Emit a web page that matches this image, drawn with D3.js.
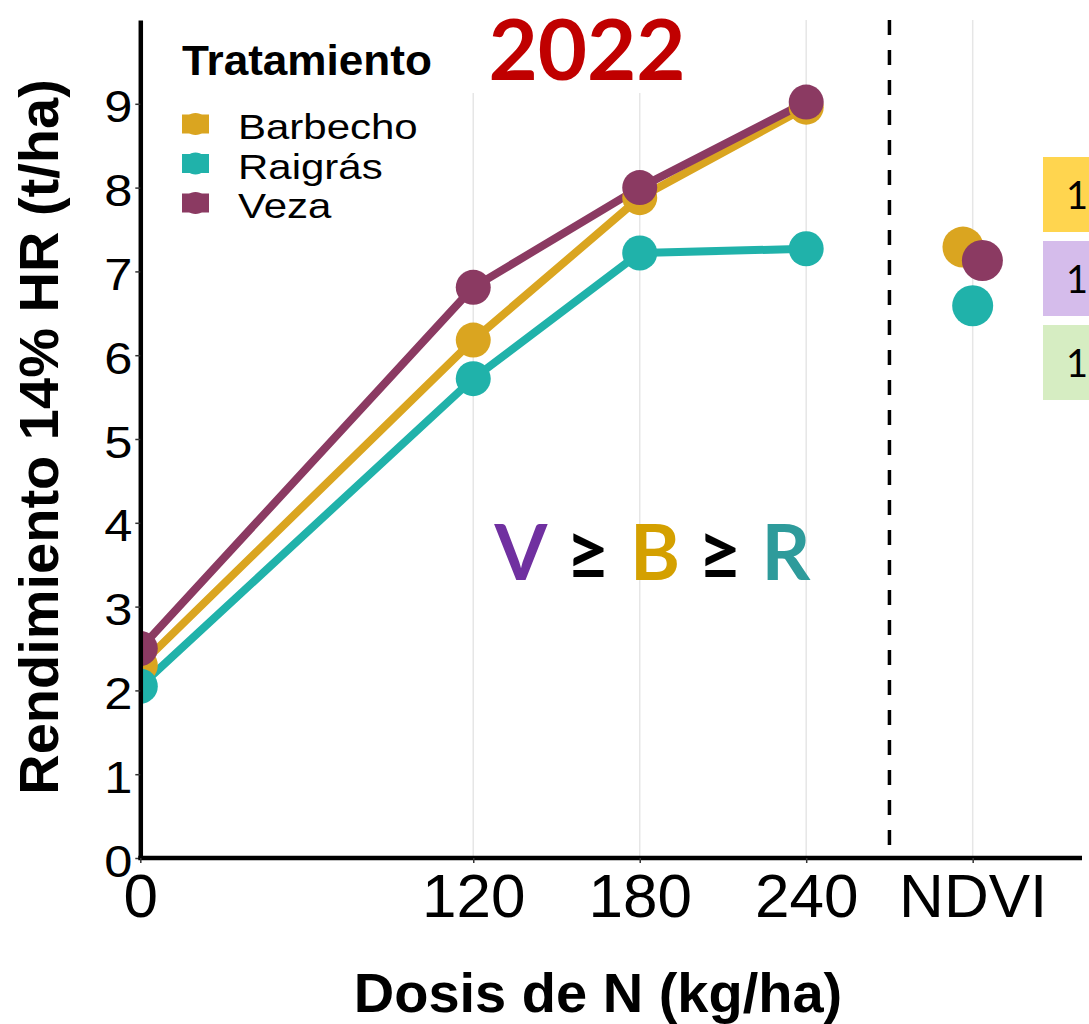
<!DOCTYPE html>
<html><head><meta charset="utf-8">
<script src="https://cdn.jsdelivr.net/npm/d3@7"></script>
<style>html,body{margin:0;padding:0;background:#fff}</style>
</head><body>
<svg id="c" width="1089" height="1024"></svg>
<script>
// ---- data ----
const treatments = ["Barbecho", "Raigrás", "Veza"];
const doses = [0, 120, 180, 240];
const barbecho = [2.30, 6.18, 7.88, 8.96];
const raigras  = [2.05, 5.72, 7.22, 7.27];
const veza     = [2.50, 6.81, 8.00, 9.02];
const ndviValues = [7.29, 6.59, 7.13];       // Barbecho, Raigrás, Veza
const ndviDodge  = [-3.5, 0, 3.5];
const xTickValues = [0, 120, 180, 240, 300];
const xTickLabels = ["0", "120", "180", "240", "NDVI"];
const yTickValues = [0,1,2,3,4,5,6,7,8,9];
const colors = ["#DAA520", "#20B2AA", "#8B3A62"];
const boxColors = ["#FFD54F", "#D5BCEB", "#D6EDC2"];
const boxLabels = ["1", "1", "1"];

const series = [barbecho, raigras, veza];

const svg = d3.select("#c");
const L = 140.3, R = 1082, T = 20, B = 858;
const x = d3.scaleLinear().domain([0, 339.4]).range([L, R]);
const y = d3.scaleLinear().domain([0, 10]).range([B, T]);

// gridlines
svg.append("g").selectAll("line").data([120,180,240,300]).join("line")
  .attr("x1", d => x(d)).attr("x2", d => x(d)).attr("y1", T).attr("y2", B)
  .attr("stroke", "#E6E6E6").attr("stroke-width", 1.5);

// white box behind title (hides gridlines)
svg.append("rect").attr("x", 455).attr("y", 0).attr("width", 270).attr("height", 93).attr("fill", "#fff");

// dashed separator
svg.append("line").attr("x1", x(270)).attr("x2", x(270)).attr("y1", T).attr("y2", B)
  .attr("stroke", "#000").attr("stroke-width", 3.5).attr("stroke-dasharray", "15,15");

// clip
svg.append("clipPath").attr("id", "clip").append("rect")
  .attr("x", L).attr("y", 0).attr("width", R - L).attr("height", B);
const plot = svg.append("g").attr("clip-path", "url(#clip)");

const line = d3.line().x((d, i) => x(doses[i])).y(d => y(d));
series.forEach((s, k) => {
  plot.append("path").datum(s).attr("d", line).attr("fill", "none")
    .attr("stroke", colors[k]).attr("stroke-width", 8).attr("stroke-linejoin", "round");
});
series.forEach((s, k) => {
  plot.append("g").selectAll("circle").data(s).join("circle")
    .attr("cx", (d, i) => x(doses[i])).attr("cy", d => y(d)).attr("r", 17.5)
    .attr("fill", colors[k]);
});
// NDVI points
ndviValues.forEach((v, k) => {
  plot.append("circle").attr("cx", x(300 + ndviDodge[k])).attr("cy", y(v)).attr("r", 20.5)
    .attr("fill", colors[k]);
});

// axes
const yAxis = svg.append("g").attr("transform", `translate(${L},0)`)
  .call(d3.axisLeft(y).tickValues(yTickValues).tickSize(5).tickSizeOuter(0).tickPadding(4));
yAxis.select(".domain").attr("stroke-width", 4.5);
yAxis.selectAll(".tick line").attr("stroke", "#333").attr("stroke-width", 1.5);
yAxis.selectAll(".tick text").attr("font-family", "Liberation Sans, Arial, sans-serif")
  .attr("font-size", 44).attr("fill", "#000").attr("dy", null)
  .attr("x", null)
  .attr("transform", "translate(-8,18) scale(1.15,1)");

const xAxis = svg.append("g").attr("transform", `translate(0,${B})`)
  .call(d3.axisBottom(x).tickValues(xTickValues).tickFormat((d, i) => xTickLabels[i])
    .tickSize(5).tickSizeOuter(0).tickPadding(2));
xAxis.select(".domain").attr("stroke-width", 4.5).attr("d", `M${L-2},0H${R}`);
xAxis.selectAll(".tick line").attr("stroke", "#333").attr("stroke-width", 1.5);
xAxis.selectAll(".tick text").attr("font-family", "Liberation Sans, Arial, sans-serif")
  .attr("font-size", 62).attr("fill", "#000").attr("dy", null).attr("y", 59);

// axis titles
svg.append("text").attr("x", 598).attr("y", 1012).attr("text-anchor", "middle")
  .attr("font-family", "Liberation Sans, Arial, sans-serif").attr("font-weight", "bold")
  .attr("font-size", 56).text("Dosis de N (kg/ha)");
svg.append("text").attr("transform", "translate(58,437) rotate(-90)").attr("text-anchor", "middle")
  .attr("font-family", "Liberation Sans, Arial, sans-serif").attr("font-weight", "bold")
  .attr("font-size", 56).text("Rendimiento 14% HR (t/ha)");

// legend
const lg = svg.append("g");
lg.append("text").attr("transform", "translate(182,75) scale(1.05,1)")
  .attr("font-family", "Liberation Sans, Arial, sans-serif").attr("font-weight", "bold")
  .attr("font-size", 42).text("Tratamiento");
treatments.forEach((t, k) => {
  const cy = 124 + k * 39.5;
  lg.append("rect").attr("x", 182).attr("y", cy - 9.5).attr("width", 27).attr("height", 19).attr("fill", colors[k]);
  lg.append("circle").attr("cx", 195.5).attr("cy", cy).attr("r", 11).attr("fill", colors[k]);
  lg.append("text").attr("transform", `translate(238,${cy + 15}) scale(1.2,1)`)
    .attr("font-family", "Liberation Sans, Arial, sans-serif")
    .attr("font-size", 35).text(t);
});

// title
svg.append("text").attr("x", 587).attr("y", 80).attr("text-anchor", "middle")
  .attr("font-family", "Lato, sans-serif").attr("font-weight", "bold")
  .attr("font-size", 85).attr("fill", "#C00000").text("2022");

// ranking annotation
const rank = [
  {t: "V", c: "#7030A0", x: 521},
  {t: "≥", c: "#000000", x: 588},
  {t: "B", c: "#D4A000", x: 655},
  {t: "≥", c: "#000000", x: 720},
  {t: "R", c: "#2E9B9B", x: 786}
];
svg.append("g").selectAll("text").data(rank).join("text")
  .attr("x", d => d.x).attr("y", 580).attr("text-anchor", "middle")
  .attr("font-family", "Lato, sans-serif").attr("font-weight", "bold")
  .attr("font-size", 76).attr("fill", d => d.c).text(d => d.t);

// right-hand boxes (cropped)
const boxTops = [157, 241, 325];
boxColors.forEach((c, k) => {
  svg.append("rect").attr("x", 1043).attr("y", boxTops[k]).attr("width", 60).attr("height", 75).attr("fill", c);
  svg.append("text").attr("x", 1066).attr("y", boxTops[k] + 52)
    .attr("font-family", "Lato, sans-serif").attr("font-size", 38).attr("fill", "#000").text(boxLabels[k]);
});
</script>
</body></html>
